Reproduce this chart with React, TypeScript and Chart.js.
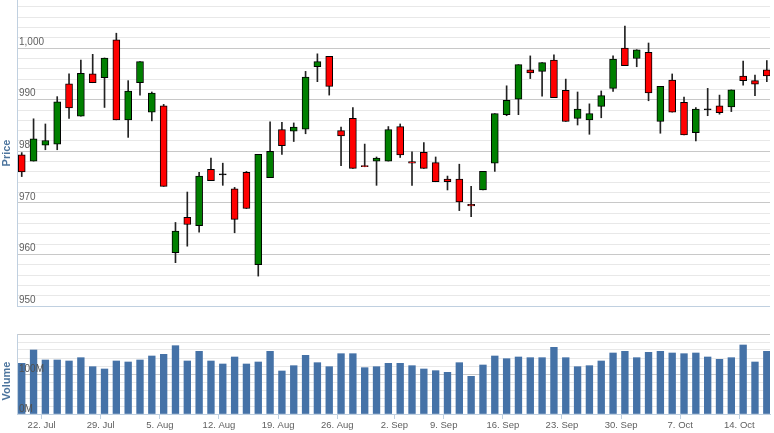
import React, { useEffect, useRef } from 'react';
import { Chart, registerables } from 'chart.js';

Chart.register(...registerables);

// ---- data ----
const dates = [
  '2013-07-18', '2013-07-19', '2013-07-22', '2013-07-23', '2013-07-24', '2013-07-25', '2013-07-26',
  '2013-07-29', '2013-07-30', '2013-07-31', '2013-08-01', '2013-08-02',
  '2013-08-05', '2013-08-06', '2013-08-07', '2013-08-08', '2013-08-09',
  '2013-08-12', '2013-08-13', '2013-08-14', '2013-08-15', '2013-08-16',
  '2013-08-19', '2013-08-20', '2013-08-21', '2013-08-22', '2013-08-23',
  '2013-08-26', '2013-08-27', '2013-08-28', '2013-08-29', '2013-08-30',
  '2013-09-03', '2013-09-04', '2013-09-05', '2013-09-06',
  '2013-09-09', '2013-09-10', '2013-09-11', '2013-09-12', '2013-09-13',
  '2013-09-16', '2013-09-17', '2013-09-18', '2013-09-19', '2013-09-20',
  '2013-09-23', '2013-09-24', '2013-09-25', '2013-09-26', '2013-09-27',
  '2013-09-30', '2013-10-01', '2013-10-02', '2013-10-03', '2013-10-04',
  '2013-10-07', '2013-10-08', '2013-10-09', '2013-10-10', '2013-10-11',
  '2013-10-14', '2013-10-15', '2013-10-16',
];

const open = [
  979.3, 978.1, 981.2, 981.4, 993.1, 986.8, 995.0,
  994.3, 1001.6, 986.1, 993.3, 987.6,
  988.8, 960.35, 967.2, 965.6, 976.5,
  975.4, 972.7, 975.9, 958.0, 974.9,
  984.2, 983.9, 984.3, 996.4, 998.4,
  984.0, 986.4, 977.2, 978.1, 978.1,
  984.8, 978.0, 979.8, 977.8,
  974.6, 974.6, 969.7, 972.5, 977.7,
  987.1, 990.1, 995.8, 995.5, 997.7,
  991.8, 986.4, 986.1, 988.7, 992.2,
  1000.0, 998.0, 999.2, 985.8, 993.8,
  989.5, 983.6, 988.0, 988.8, 988.6,
  994.6, 993.7, 995.8,
];
const high = [
  979.75, 986.3, 985.3, 990.6, 995.0, 997.7, 998.8,
  998.1, 1002.9, 993.7, 997.4, 991.5,
  989.1, 966.2, 972.1, 975.9, 978.7,
  977.7, 973.0, 976.1, 979.4, 985.7,
  985.6, 985.5, 995.5, 998.9, 998.4,
  984.7, 988.5, 981.4, 978.9, 984.8,
  985.3, 979.9, 981.7, 978.9,
  975.2, 977.5, 973.2, 976.1, 987.3,
  992.7, 996.8, 998.5, 997.2, 998.7,
  994.0, 991.5, 989.2, 991.7, 998.5,
  1004.3, 999.7, 1001.0, 992.6, 995.0,
  990.5, 988.5, 992.2, 990.9, 991.9,
  997.5, 994.8, 997.6,
];
const low = [
  975.1, 978.1, 980.3, 980.3, 986.4, 986.8, 993.3,
  988.5, 986.1, 982.7, 990.9, 985.9,
  973.2, 958.4, 961.6, 964.3, 974.3,
  973.4, 964.2, 968.9, 955.8, 974.9,
  979.4, 981.9, 983.4, 993.5, 990.9,
  977.2, 976.7, 977.0, 973.4, 978.1,
  978.8, 973.4, 976.7, 974.1,
  972.5, 968.5, 967.3, 972.5, 976.1,
  986.9, 987.1, 994.1, 990.7, 990.4,
  985.8, 985.1, 983.3, 986.5, 991.6,
  996.6, 996.4, 989.8, 983.5, 987.6,
  983.2, 982.0, 986.9, 987.2, 987.7,
  992.8, 990.8, 993.5,
];
const close = [
  976.0, 982.4, 982.1, 989.6, 988.4, 995.1, 993.3,
  998.1, 986.1, 991.7, 997.4, 991.3,
  973.2, 964.55, 965.8, 975.2, 974.3,
  975.4, 966.8, 968.9, 979.4, 980.0,
  981.1, 984.7, 994.4, 997.4, 992.6,
  983.0, 976.7, 977.0, 978.7, 984.2,
  979.3, 977.7, 976.7, 974.1,
  974.1, 970.2, 969.4, 976.1, 987.3,
  989.9, 996.8, 995.2, 997.2, 990.4,
  985.8, 988.2, 987.3, 990.8, 997.9,
  996.6, 999.7, 991.3, 992.6, 987.6,
  983.2, 988.2, 988.0, 987.5, 991.9,
  993.7, 993.0, 994.6,
];
// volume in millions
const volume = [
  126.7, 160, 135, 135, 132.5, 140.8, 118.3,
  112.5, 132.5, 130, 135, 145,
  149.2, 170.8, 132.5, 156.7, 132.5,
  125, 142.5, 125, 130, 156.7,
  107.5, 120.8, 146.7, 128.3, 118.3,
  150.8, 150.8, 115.8, 118.3, 126.7,
  126.7, 120.8, 112.5, 108.3,
  104.2, 128.3, 94.2, 122.5, 145,
  138.3, 142.5, 140.8, 140.8, 166.7,
  140.8, 118.3, 120.8, 132.5, 152.5,
  156.7, 140.8, 154.2, 156.7, 152.5,
  150.8, 152.5, 142.5, 136.7, 140.8,
  172.5, 130, 156.7,
];

const weekStarts = [
  '2013-07-22', '2013-07-29', '2013-08-05', '2013-08-12', '2013-08-19', '2013-08-26', '2013-09-02',
  '2013-09-09', '2013-09-16', '2013-09-23', '2013-09-30', '2013-10-07', '2013-10-14',
];
const weekLabels = [
  '22. Jul', '29. Jul', '5. Aug', '12. Aug', '19. Aug', '26. Aug', '2. Sep',
  '9. Sep', '16. Sep', '23. Sep', '30. Sep', '7. Oct', '14. Oct',
];

// ---- helpers ----
const DAY = 86400000;
const POINT_SHIFT_DAYS = 0.96; // points sit late in the trading day on the ordinal axis
const pointTimes = dates.map((d) => Date.parse(d) + POINT_SHIFT_DAYS * DAY);
function ordinalPosition(dateStr: string): number {
  const t = Date.parse(dateStr);
  const j = pointTimes.findIndex((pt) => pt >= t);
  if (j <= 0) return Math.max(j, 0);
  return j - 1 + (t - pointTimes[j - 1]) / (pointTimes[j] - pointTimes[j - 1]);
}
const weekTickPositions = weekStarts.map(ordinalPosition);

const X_MIN = -0.4;
const X_MAX = 63.27;
const FONT = 'Liberation Sans, Arial, sans-serif';
const UP = '#008000';
const DOWN = '#ff0000';
const MAJOR_GRID = '#c8c8c8';
const MINOR_GRID = '#e8e8e8';
const AXIS_LINE = '#c0d0e0';
const LABEL = '#606060';
const TITLE = '#4d759e';

function candleColor(i: number) {
  if (close[i] > open[i]) return UP;
  if (close[i] < open[i]) return DOWN;
  return '#000000';
}

function rangeTicks(from: number, to: number, step: number) {
  const out: { value: number }[] = [];
  for (let v = from; v <= to + 1e-9; v += step) out.push({ value: Math.round(v * 100) / 100 });
  return out;
}

// Draws a rotated axis title beside a y scale, slightly below the pane centre (as in the source chart)
function paneTitlePlugin(id: string, text: string, dy: number) {
  return {
    id,
    afterDraw(chart: any) {
      const s = chart.scales.y;
      const ctx = chart.ctx;
      ctx.save();
      ctx.translate(s.left + 6.6, (s.top + s.bottom) / 2 + dy);
      ctx.rotate(-Math.PI / 2);
      ctx.fillStyle = TITLE;
      ctx.font = `bold 11px ${FONT}`;
      ctx.textAlign = 'center';
      ctx.textBaseline = 'middle';
      ctx.fillText(text, 0, 0);
      ctx.restore();
    },
  };
}

export default function App() {
  const priceRef = useRef<HTMLCanvasElement>(null);
  const volRef = useRef<HTMLCanvasElement>(null);

  useEffect(() => {
    const priceChart = new Chart(priceRef.current!, {
      type: 'bar',
      data: {
        datasets: [
          {
            label: 'body',
            data: dates.map((_, i) => ({ x: i, y: [open[i], close[i]] })) as any,
            backgroundColor: dates.map((_, i) => candleColor(i)),
            borderColor: '#000000',
            borderWidth: 1,
            borderSkipped: false,
            barThickness: 7,
            minBarLength: 1.2,
            grouped: false,
            order: 0,
          } as any,
          {
            label: 'wick',
            data: dates.map((_, i) => ({ x: i, y: [low[i], high[i]] })) as any,
            backgroundColor: '#222222',
            borderWidth: 0,
            barThickness: 1,
            grouped: false,
            order: 1,
          } as any,
        ],
      },
      options: {
        responsive: false,
        animation: false,
        events: [],
        layout: { padding: { top: 0, right: 4, bottom: 4, left: 0 } },
        plugins: { legend: { display: false }, tooltip: { enabled: false } },
        scales: {
          x: {
            type: 'linear',
            display: false,
            offset: false,
            min: X_MIN,
            max: X_MAX,
          },
          y: {
            type: 'linear',
            min: 950,
            max: 1009.34,
            afterBuildTicks: (s: any) => {
              s.ticks = rangeTicks(950, 1008, 2);
            },
            afterFit: (s: any) => {
              s.width = 17;
              s.paddingTop = 0;
              s.paddingBottom = 0;
            },
            ticks: {
              autoSkip: false,
              mirror: true,
              padding: 2,
              labelOffset: -6,
              color: LABEL,
              font: { family: FONT, size: 10 },
              callback: (v: any) => (Number(v) % 10 === 0 ? Number(v).toLocaleString('en-US') : ''),
            },
            grid: {
              drawTicks: false,
              color: (ctx: any) => {
                const v = ctx.tick?.value;
                if (v === 950) return AXIS_LINE;
                return v % 10 === 0 ? MAJOR_GRID : MINOR_GRID;
              },
            },
            border: { display: true, color: AXIS_LINE },
            title: {
              display: true,
              text: 'Price',
              color: TITLE,
              padding: 0,
              font: { family: FONT, size: 11, weight: 'bold' },
            },
          },
        },
      } as any,
    });

    const volChart = new Chart(volRef.current!, {
      type: 'bar',
      data: {
        datasets: [
          {
            label: 'Volume',
            data: dates.map((_, i) => ({ x: i, y: volume[i] })) as any,
            backgroundColor: '#4572a7',
            borderWidth: 0,
            barThickness: 6.7,
            grouped: false,
          } as any,
        ],
      },
      options: {
        responsive: false,
        animation: false,
        events: [],
        layout: { padding: { top: 14, right: 4, bottom: 0, left: 0 } },
        plugins: { legend: { display: false }, tooltip: { enabled: false } },
        scales: {
          x: {
            type: 'linear',
            offset: false,
            min: X_MIN,
            max: X_MAX,
            afterBuildTicks: (s: any) => {
              s.ticks = weekTickPositions.map((v) => ({ value: v }));
            },
            afterFit: (s: any) => {
              s.height = 19;
              s.paddingLeft = 0;
              s.paddingRight = 0;
            },
            ticks: {
              autoSkip: false,
              maxRotation: 0,
              minRotation: 0,
              padding: 1,
              color: LABEL,
              font: { family: FONT, size: 9.5 },
              callback: (_v: any, i: number) => weekLabels[i],
            },
            grid: { offset: false, drawOnChartArea: false, drawTicks: true, tickLength: 5, color: AXIS_LINE },
            border: { display: true, color: AXIS_LINE },
          },
          y: {
            type: 'linear',
            min: 0,
            max: 200,
            afterBuildTicks: (s: any) => {
              s.ticks = rangeTicks(0, 200, 20);
            },
            afterFit: (s: any) => {
              s.width = 17;
              s.paddingTop = 0;
              s.paddingBottom = 0;
            },
            ticks: {
              autoSkip: false,
              mirror: true,
              padding: 2,
              labelOffset: -5,
              z: 1,
              color: '#505050',
              font: { family: FONT, size: 10 },
              callback: (v: any) => (Number(v) === 0 || Number(v) === 100 ? `${v}M` : ''),
            },
            grid: {
              drawTicks: false,
              color: (ctx: any) => (ctx.tick?.value % 100 === 0 ? MAJOR_GRID : MINOR_GRID),
            },
            border: { display: true, color: AXIS_LINE },
          },
        },
      } as any,
      plugins: [paneTitlePlugin('volumeTitle', 'Volume', 7)],
    });

    return () => {
      priceChart.destroy();
      volChart.destroy();
    };
  }, []);

  return (
    <div style={{ position: 'absolute', left: 0, top: 0, width: 774, height: 433, background: '#ffffff', overflow: 'hidden' }}>
      <canvas ref={priceRef} width={774} height={310} style={{ position: 'absolute', left: 0, top: 0 }} />
      <canvas ref={volRef} width={774} height={113} style={{ position: 'absolute', left: 0, top: 320 }} />
    </div>
  );
}
